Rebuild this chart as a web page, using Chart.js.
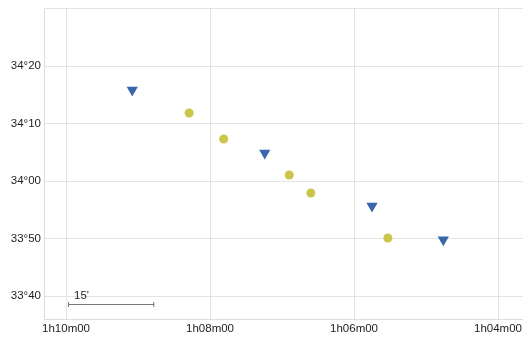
<!DOCTYPE html>
<html>
<head>
<meta charset="utf-8">
<script src="https://cdn.jsdelivr.net/npm/chart.js@4/dist/chart.umd.min.js"></script>
<style>
  html, body { margin: 0; padding: 0; background: #fff; }
  #wrap { width: 523px; height: 337px; }
</style>
</head>
<body>
<div id="wrap"><canvas id="c" width="523" height="337"></canvas></div>
<script>
// Right ascension in minutes of time past 1h, declination in degrees
const raTriangles = [69.08, 67.24, 65.75, 64.76];
const decTriangles = [34.2638, 34.0812, 33.9275, 33.8300];
const raCircles = [68.29, 67.81, 66.90, 66.60, 65.53];
const decCircles = [34.1972, 34.1217, 34.0173, 33.9652, 33.8348];

const raTicks = [64, 66, 68, 70];
const raTickLabels = ['1h04m00', '1h06m00', '1h08m00', '1h10m00'];
const decTicks = [33 + 40 / 60, 33 + 50 / 60, 34, 34 + 10 / 60, 34 + 20 / 60];
const decTickLabels = ['33°40', '33°50', '34°00', '34°10', '34°20'];

const raRange = [63.653, 70.306];
const decRange = [33.6, 34.5015];
const scaleBarArcmin = 15;

const labelFont = '"Liberation Sans", Arial, sans-serif';
const toPoints = (xs, ys) => xs.map((x, i) => ({ x: x, y: ys[i] }));

// Angular scale bar in the lower-left corner, sized from the declination axis
const scaleBar = {
  id: 'scaleBar',
  afterDatasetsDraw(chart) {
    const { ctx, chartArea, scales } = chart;
    const len = Math.abs(scales.y.getPixelForValue(34) - scales.y.getPixelForValue(34 + scaleBarArcmin / 60));
    const x0 = chartArea.left + 24, y0 = chartArea.bottom - 15;
    ctx.save();
    ctx.strokeStyle = '#777';
    ctx.lineWidth = 1;
    ctx.beginPath();
    ctx.moveTo(x0, y0 + 0.5); ctx.lineTo(x0 + len, y0 + 0.5);
    ctx.moveTo(x0 + 0.5, y0 - 2); ctx.lineTo(x0 + 0.5, y0 + 3);
    ctx.moveTo(x0 + len - 0.5, y0 - 2); ctx.lineTo(x0 + len - 0.5, y0 + 3);
    ctx.stroke();
    ctx.fillStyle = '#1e1e1e';
    ctx.font = '11.5px ' + labelFont;
    ctx.textBaseline = 'bottom';
    ctx.fillText(scaleBarArcmin + "'", x0 + 6, y0 - 2);
    ctx.restore();
  }
};

new Chart(document.getElementById('c'), {
  type: 'scatter',
  data: {
    datasets: [
      {
        data: toPoints(raTriangles, decTriangles),
        pointStyle: 'triangle',
        rotation: 180,
        pointRadius: 6.5,
        backgroundColor: '#3867ad',
        borderColor: '#3867ad',
        borderWidth: 0
      },
      {
        data: toPoints(raCircles, decCircles),
        pointStyle: 'circle',
        pointRadius: 4.5,
        backgroundColor: '#cbc64a',
        borderColor: '#cbc64a',
        borderWidth: 0
      }
    ]
  },
  options: {
    responsive: false,
    animation: false,
    layout: { autoPadding: false, padding: { top: 8, right: 0, left: 0, bottom: 0 } },
    plugins: { legend: { display: false }, tooltip: { enabled: false } },
    scales: {
      x: {
        type: 'linear',
        reverse: true,
        min: raRange[0],
        max: raRange[1],
        afterBuildTicks: s => { s.ticks = raTicks.map(v => ({ value: v })); },
        afterFit: s => { s.height = 18; s.paddingRight = 0; s.paddingLeft = 0; },
        ticks: {
          callback: v => raTickLabels[raTicks.indexOf(v)],
          color: '#1e1e1e',
          font: { family: labelFont, size: 11.5 },
          padding: 3,
          maxRotation: 0,
          autoSkip: false
        },
        grid: { color: '#e4e4e4', drawTicks: false },
        border: { color: '#dcdcdc' }
      },
      y: {
        type: 'linear',
        min: decRange[0],
        max: decRange[1],
        afterBuildTicks: s => { s.ticks = decTicks.map(v => ({ value: v })); },
        afterFit: s => { s.width = 44; s.paddingTop = 0; s.paddingBottom = 0; },
        ticks: {
          callback: (v, i) => decTickLabels[i],
          color: '#1e1e1e',
          font: { family: labelFont, size: 11.5 },
          padding: 3,
          autoSkip: false
        },
        grid: { color: '#e4e4e4', drawTicks: false },
        border: { color: '#dcdcdc' }
      }
    }
  },
  plugins: [scaleBar, {
    id: 'topBorder',
    afterDraw(chart) {
      const { ctx, chartArea } = chart;
      ctx.save();
      ctx.strokeStyle = '#e4e4e4';
      ctx.beginPath();
      ctx.moveTo(chartArea.left, chartArea.top + 0.5);
      ctx.lineTo(chartArea.right, chartArea.top + 0.5);
      ctx.stroke();
      ctx.restore();
    }
  }]
});
</script>
</body>
</html>
